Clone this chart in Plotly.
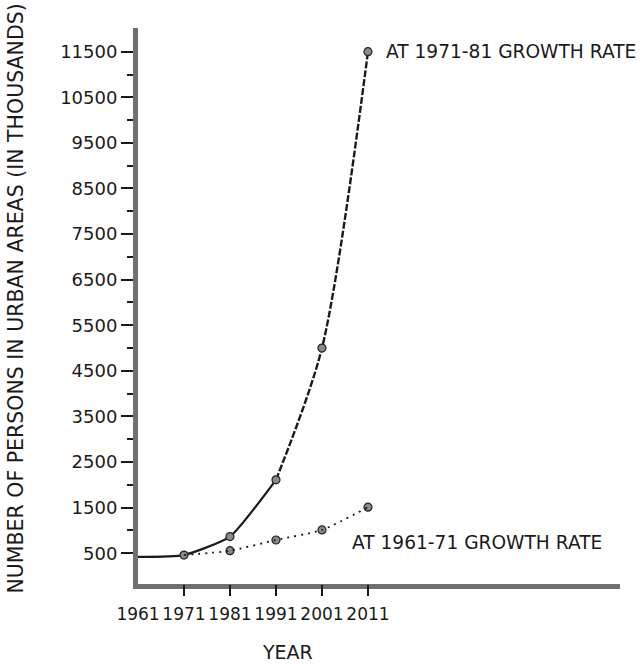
import plotly.graph_objects as go

# ---- data ----
years = [1961, 1971, 1981, 1991, 2001, 2011]
year_labels = ["1961", "1971", "1981", "1991", "2001", "2011"]

# observed trend (solid) and projection at 1971-81 growth rate (dashed)
obs_years = [1961, 1971, 1981, 1991]
obs_vals = [420, 460, 865, 2110]
proj_years = [1991, 2001, 2011]
proj_vals = [2110, 5000, 11500]

# projection at 1961-71 growth rate (dotted)
low_years = [1971, 1981, 1991, 2001, 2011]
low_vals = [460, 555, 790, 1010, 1510]

y_major = [500, 1500, 2500, 3500, 4500, 5500, 6500, 7500, 8500, 9500, 10500, 11500]
y_major_labels = ["500", "1500", "2500", "3500", "4500", "5500", "6500", "7500",
                  "8500", "9500", "10500", "11500"]
y_minor = [1000, 2000, 3000, 4000, 5000, 6000, 7000, 8000, 9000, 10000, 11000]

y_title = "NUMBER OF PERSONS IN URBAN AREAS (IN THOUSANDS)"
x_title = "YEAR"
label_high = "AT 1971-81 GROWTH RATE"
label_low = "AT 1961-71 GROWTH RATE"

FONT = "DejaVu Sans"
INK = "#1a1a1a"
AXIS_GREY = "#707070"

fig = go.Figure()

fig.add_trace(go.Scatter(
    x=obs_years, y=obs_vals, mode="lines",
    line=dict(color=INK, width=2.2, shape="spline", smoothing=0.5),
    hoverinfo="skip", showlegend=False))
fig.add_trace(go.Scatter(
    x=proj_years, y=proj_vals, mode="lines",
    line=dict(color=INK, width=2.4, shape="spline", smoothing=0.8, dash="7px,2px"),
    hoverinfo="skip", showlegend=False))
fig.add_trace(go.Scatter(
    x=low_years, y=low_vals, mode="lines",
    line=dict(color=INK, width=1.8, shape="spline", smoothing=0.6, dash="2px,5px"),
    hoverinfo="skip", showlegend=False, xaxis="x2"))

marker_style = dict(size=8, color="#8a8a8a", line=dict(color="#222222", width=1.2))
fig.add_trace(go.Scatter(x=obs_years[1:], y=obs_vals[1:], mode="markers",
                         marker=marker_style, showlegend=False))
fig.add_trace(go.Scatter(x=proj_years[1:], y=proj_vals[1:], mode="markers",
                         marker=marker_style, showlegend=False))
fig.add_trace(go.Scatter(x=low_years[1:], y=low_vals[1:], mode="markers",
                         marker=marker_style, showlegend=False))

x_range = [1961, 2065.8]
y_range = [-175, 12020]

fig.update_layout(
    width=640, height=666,
    margin=dict(l=138, r=20, t=28, b=82),
    paper_bgcolor="white", plot_bgcolor="white",
    font=dict(family=FONT, color=INK),
    xaxis=dict(
        range=x_range, tickvals=years, ticktext=year_labels,
        ticks="outside", ticklen=11, tickcolor="rgba(0,0,0,0)",
        tickfont=dict(size=17, family=FONT, color=INK),
        showline=True, linecolor=AXIS_GREY, linewidth=5,
        showgrid=False, zeroline=False, fixedrange=True),
    xaxis2=dict(
        range=x_range, overlaying="x", anchor="y", side="bottom",
        tickvals=years[1:], showticklabels=False,
        ticks="outside", ticklen=11, tickwidth=1.5, tickcolor=INK,
        showline=False, showgrid=False, zeroline=False, fixedrange=True),
    yaxis=dict(
        range=y_range, tickvals=y_major, ticktext=y_major_labels,
        ticks="outside", ticklen=12, tickwidth=1.5, tickcolor=INK,
        tickfont=dict(size=18, family=FONT, color=INK),
        minor=dict(tickvals=y_minor, ticks="outside", ticklen=6,
                   tickwidth=1.5, tickcolor=INK),
        showline=True, linecolor=AXIS_GREY, linewidth=5,
        showgrid=False, zeroline=False, fixedrange=True),
)

fig.add_annotation(text=label_high, x=2014.4, y=proj_vals[-1], xref="x", yref="y",
                   xanchor="left", yanchor="middle", showarrow=False,
                   font=dict(size=18.6, family=FONT, color=INK))
fig.add_annotation(text=label_low, x=2007.0, y=725, xref="x", yref="y",
                   xanchor="left", yanchor="middle", showarrow=False,
                   font=dict(size=18.6, family=FONT, color=INK))
fig.add_annotation(text=x_title, x=(287 - 138) / 482, y=-(652 - 584) / 556,
                   xref="paper", yref="paper", xanchor="center", yanchor="middle",
                   showarrow=False, font=dict(size=19, family=FONT, color=INK))
fig.add_annotation(text=y_title, x=(15.5 - 138) / 482, y=(584 - 299) / 556,
                   xref="paper", yref="paper", xanchor="center", yanchor="middle",
                   textangle=-90, showarrow=False,
                   font=dict(size=20.5, family=FONT, color=INK))

fig.write_html("out.html",
               config={"displayModeBar": False},
               post_script="document.body.style.margin='0';document.body.style.padding='0';")
